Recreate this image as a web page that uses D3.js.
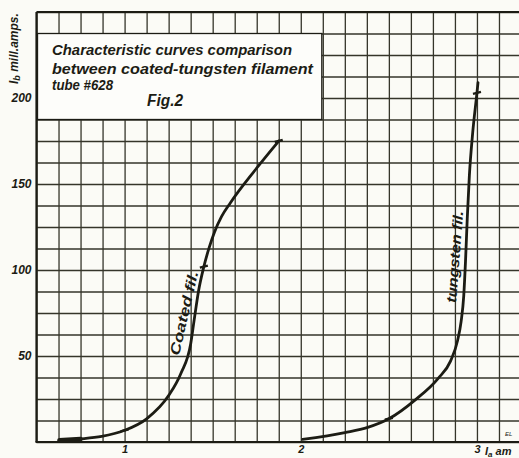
<!DOCTYPE html>
<html>
<head>
<meta charset="utf-8">
<script src="https://cdn.jsdelivr.net/npm/d3@7"></script>
<style>
  html, body { margin: 0; padding: 0; background: #fbfbf6; }
  svg { display: block; }
  text { font-family: "Liberation Sans", Arial, sans-serif; font-style: italic; fill: #1c1c14; }
</style>
</head>
<body>
<svg id="chart" width="519" height="458"></svg>
<script>
// Plate current (mA) against plate current scale Ia (amp.)
const coatedX = [0.63, 0.75, 0.87, 1.0, 1.125, 1.25, 1.32, 1.375, 1.395, 1.42, 1.45, 1.48, 1.51, 1.55, 1.6, 1.74, 1.875];
const coatedY = [1, 1.8, 3.2, 6.8, 13.5, 27, 40, 57, 71, 88, 102, 113, 122, 131, 139, 158, 175];
const tungstenX = [2.01, 2.25, 2.38, 2.5, 2.65, 2.78, 2.85, 2.89, 2.91, 2.925, 2.935, 2.945, 2.957, 2.976, 3.0, 3.006];
const tungstenY = [1.5, 5.5, 8.5, 13.5, 24.5, 37, 47, 59, 70, 85, 105, 130, 155, 180, 203, 209];
// points marked on each curve
const coatedMarks = [[1.0, 6.8], [1.45, 102], [1.875, 175]];
const tungstenMarks = [[2.5, 13.5], [3.0, 203]];

const yTicks = [50, 100, 150, 200];
const xTicks = [1, 2, 3];
const titleLines = ["Characteristic curves comparison", "between coated-tungsten filament", "tube #628"];
const figLabel = "Fig.2";

const svg = d3.select("#chart");
const ink = "#1c1c14";
const gridInk = "#35352a";

const x = d3.scaleLinear().domain([0.5, 3.25]).range([36.5, 521]);
const y = d3.scaleLinear().domain([0, 250]).range([442, 12]);

// graph-paper grid: 1/8 amp by 12.5 mA
const xGrid = d3.range(0, 23).map(i => 0.5 + i * 0.125);
const yGrid = d3.range(0, 21).map(i => i * 12.5);

svg.append("g")
  .attr("transform", `translate(0,${y(0)})`)
  .call(d3.axisBottom(x).tickValues(xGrid).tickSize(-(y(0) - y(250))).tickFormat(""))
  .call(g => g.select(".domain").remove())
  .call(g => g.selectAll("line").attr("stroke", gridInk).attr("stroke-width", 1.3));

svg.append("g")
  .attr("transform", `translate(${x(0.5)},0)`)
  .call(d3.axisLeft(y).tickValues(yGrid).tickSize(-(x(3.25) - x(0.5))).tickFormat(""))
  .call(g => g.select(".domain").remove())
  .call(g => g.selectAll("line").attr("stroke", gridInk).attr("stroke-width", 1.3));

// heavier axis lines
svg.append("line").attr("x1", x(0.5)).attr("x2", x(0.5)).attr("y1", y(250)).attr("y2", y(0))
  .attr("stroke", ink).attr("stroke-width", 2.2);
svg.append("line").attr("x1", x(0.5) - 1).attr("x2", 519).attr("y1", y(0)).attr("y2", y(0))
  .attr("stroke", ink).attr("stroke-width", 2.2);
svg.append("line").attr("x1", x(0.5)).attr("x2", 519).attr("y1", y(250)).attr("y2", y(250))
  .attr("stroke", ink).attr("stroke-width", 1.8);

// title panel
svg.append("rect")
  .attr("x", x(0.5) + 1).attr("y", y(237.5))
  .attr("width", x(2.125) - x(0.5) - 2).attr("height", y(187.5) - y(237.5))
  .attr("fill", "#fdfdfa").attr("stroke", ink).attr("stroke-width", 1.3);

const titleSpec = [
  { t: titleLines[0], x: 52, y: 55, len: 240 },
  { t: titleLines[1], x: 52, y: 74, len: 261 },
  { t: titleLines[2], x: 52, y: 90, len: 61 }
];
titleSpec.forEach(s => {
  svg.append("text").attr("x", s.x).attr("y", s.y)
    .attr("font-size", 15).attr("font-weight", "bold")
    .attr("textLength", s.len).attr("lengthAdjust", "spacingAndGlyphs")
    .text(s.t);
});
svg.append("text").attr("x", 147).attr("y", 106)
  .attr("font-size", 16).attr("font-weight", "bold")
  .attr("textLength", 36).attr("lengthAdjust", "spacingAndGlyphs")
  .text(figLabel);

// y tick labels
svg.append("g")
  .attr("transform", `translate(${x(0.5)},0)`)
  .call(d3.axisLeft(y).tickValues(yTicks).tickSize(0).tickPadding(5))
  .call(g => g.select(".domain").remove())
  .call(g => g.selectAll("text")
    .attr("font-family", "Liberation Sans, Arial, sans-serif")
    .attr("font-style", "italic").attr("font-weight", "bold")
    .attr("font-size", 12).attr("fill", ink));

// x tick labels
svg.append("g")
  .attr("transform", `translate(0,${y(0)})`)
  .call(d3.axisBottom(x).tickValues(xTicks).tickSize(0).tickPadding(3).tickFormat(d3.format("d")))
  .call(g => g.select(".domain").remove())
  .call(g => g.selectAll("text")
    .attr("font-family", "Liberation Sans, Arial, sans-serif")
    .attr("font-style", "italic").attr("font-weight", "bold")
    .attr("font-size", 11).attr("fill", ink));

// x unit
const xu = svg.append("text").attr("x", x(3) + 8).attr("y", 455)
  .attr("font-size", 11).attr("font-weight", "bold");
xu.append("tspan").text("I");
xu.append("tspan").attr("font-size", 8).attr("dy", 2).text("a");
xu.append("tspan").attr("dy", -2).text(" am");

// y unit
const yu = svg.append("text").attr("transform", "translate(18,84) rotate(-90)")
  .attr("font-size", 12).attr("font-weight", "bold");
yu.append("tspan").text("I");
yu.append("tspan").attr("font-size", 9).attr("dy", 2).text("b");
yu.append("tspan").attr("dy", -2).text(" mill.amps.");

svg.append("text").attr("x", 505).attr("y", 436).attr("font-size", 6).attr("font-style", "normal").text("EL");

// curves
const line = d3.line().x(d => x(d[0])).y(d => y(d[1])).curve(d3.curveMonotoneX);
const coated = d3.zip(coatedX, coatedY);
const tungsten = d3.zip(tungstenX, tungstenY);

[coated, tungsten].forEach(data => {
  svg.append("path").datum(data).attr("d", line)
    .attr("fill", "none").attr("stroke", ink).attr("stroke-width", 2.8)
    .attr("stroke-linecap", "round");
});

// heavy start of the coated curve
svg.append("path").datum(coated.slice(0, 2)).attr("d", line)
  .attr("fill", "none").attr("stroke", ink).attr("stroke-width", 4.5).attr("stroke-linecap", "round");

// point marks: short ticks across the curve
function marks(pts) {
  pts.forEach(p => {
    const cx = x(p[0]), cy = y(p[1]);
    svg.append("line").attr("x1", cx - 4).attr("x2", cx + 4).attr("y1", cy + 1).attr("y2", cy - 1)
      .attr("stroke", ink).attr("stroke-width", 2.4);
  });
}
marks(coatedMarks);
marks(tungstenMarks);

// curve labels
svg.append("text").attr("transform", "translate(179,356) rotate(-77)")
  .attr("font-size", 14).attr("font-weight", "bold")
  .attr("textLength", 86).attr("lengthAdjust", "spacingAndGlyphs").text("Coated fil.");
svg.append("text").attr("transform", "translate(456,303) rotate(-85.5)")
  .attr("font-size", 14).attr("font-weight", "bold")
  .attr("textLength", 92).attr("lengthAdjust", "spacingAndGlyphs").text("tungsten fil.");
</script>
</body>
</html>
